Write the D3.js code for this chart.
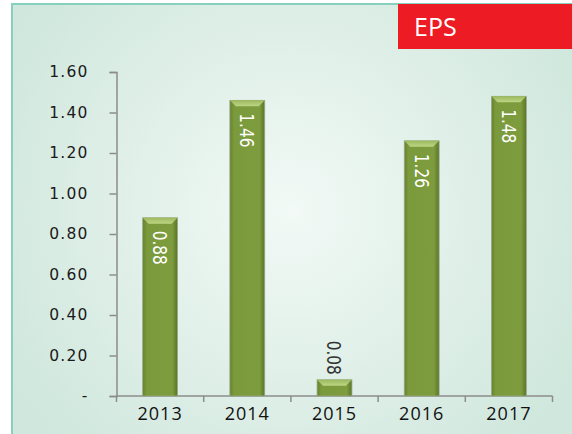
<!DOCTYPE html>
<html>
<head>
<meta charset="utf-8">
<script src="https://cdnjs.cloudflare.com/ajax/libs/d3/7.8.5/d3.min.js"></script>
<style>
  body { margin: 0; background: #fff; }
  svg { display: block; }
</style>
</head>
<body>
<div class="chart"></div>
<script>
var years = ["2013", "2014", "2015", "2016", "2017"];
var eps = [0.88, 1.46, 0.08, 1.26, 1.48];
var yTicks = [0, 0.2, 0.4, 0.6, 0.8, 1.0, 1.2, 1.4, 1.6];

var svgWidth = 572;
var svgHeight = 434;
var margin = { top: 72, left: 116.5, right: 19.5, bottom: 38 };
var width = svgWidth - margin.left - margin.right;
var height = svgHeight - margin.top - margin.bottom;

var svg = d3.select(".chart")
  .append("svg")
    .attr("width", svgWidth)
    .attr("height", svgHeight);

var defs = svg.append("defs");

var bg = defs.append("radialGradient")
  .attr("id", "bg")
  .attr("gradientUnits", "userSpaceOnUse")
  .attr("cx", 290).attr("cy", 210).attr("r", 330);
bg.append("stop").attr("offset", "0%").attr("stop-color", "#f2f9f6");
bg.append("stop").attr("offset", "100%").attr("stop-color", "#cfe7dc");

var barGrad = defs.append("linearGradient")
  .attr("id", "barGrad")
  .attr("x1", "0%").attr("x2", "100%").attr("y1", "0%").attr("y2", "0%");
barGrad.append("stop").attr("offset", "0%").attr("stop-color", "#66812f");
barGrad.append("stop").attr("offset", "12%").attr("stop-color", "#7b9a3b");
barGrad.append("stop").attr("offset", "85%").attr("stop-color", "#7d9c3d");
barGrad.append("stop").attr("offset", "100%").attr("stop-color", "#5b7428");

var topGrad = defs.append("linearGradient")
  .attr("id", "topGrad")
  .attr("x1", "0%").attr("x2", "0%").attr("y1", "0%").attr("y2", "100%");
topGrad.append("stop").attr("offset", "0%").attr("stop-color", "#9dba5e");
topGrad.append("stop").attr("offset", "100%").attr("stop-color", "#bdd585");

// panel
svg.append("rect")
  .attr("x", 12).attr("y", 4)
  .attr("width", svgWidth + 10).attr("height", svgHeight + 10)
  .attr("fill", "url(#bg)")
  .attr("stroke", "#86d0bd")
  .attr("stroke-width", 2);

// title box
svg.append("rect")
  .attr("x", 398).attr("y", 4)
  .attr("width", 180).attr("height", 45)
  .attr("fill", "#ed1c24");
svg.append("text")
  .attr("x", 414).attr("y", 36)
  .attr("fill", "#fff")
  .attr("font-family", "'Open Sans', sans-serif")
  .attr("font-size", 25)
  .text("EPS");

var chart = svg.append("g")
  .attr("transform", "translate(" + margin.left + "," + margin.top + ")");

var x = d3.scaleBand().domain(years).range([0, width]).paddingInner(0.6).paddingOuter(0.3);
var y = d3.scaleLinear().domain([0, 1.6]).range([height, 0]);

var data = years.map(function(d, i) { return { year: d, value: eps[i] }; });

// y axis
var leftAxis = d3.axisLeft(y)
  .tickValues(yTicks)
  .tickSize(7)
  .tickPadding(21)
  .tickFormat(function(d) { return d === 0 ? "-" : d3.format(".2f")(d); });
var gy = chart.append("g").call(leftAxis);
gy.selectAll("text")
  .attr("font-family", "'DejaVu Sans', sans-serif")
  .attr("font-size", 15.5)
  .attr("letter-spacing", 1.2)
  .attr("fill", "#1a1a1a");

// x axis
var xEdges = d3.scaleLinear().domain([0, years.length]).range([0, width]);
var gx = chart.append("g").attr("transform", "translate(0," + height + ")");
gx.append("line").attr("x1", 0).attr("x2", width).attr("y1", 0).attr("y2", 0);
gx.selectAll(".tk").data(d3.range(years.length + 1)).enter().append("line")
  .attr("x1", function(d) { return xEdges(d); })
  .attr("x2", function(d) { return xEdges(d); })
  .attr("y1", 0).attr("y2", 6);
gx.selectAll("text").data(years).enter().append("text")
  .attr("x", function(d) { return x(d) + x.bandwidth() / 2; })
  .attr("y", 24)
  .attr("text-anchor", "middle")
  .attr("font-family", "'Open Sans', sans-serif")
  .attr("font-size", 18)
  .attr("letter-spacing", 1)
  .attr("fill", "#111")
  .text(function(d) { return d; });

svg.selectAll(".domain, .tick line, g line").attr("stroke", "#8c8c8c").attr("stroke-width", 1.5);

// bars
var bars = chart.selectAll(".bar").data(data).enter().append("g").attr("class", "bar");
bars.append("rect")
  .attr("x", function(d) { return x(d.year); })
  .attr("y", function(d) { return y(d.value); })
  .attr("width", x.bandwidth())
  .attr("height", function(d) { return height - y(d.value); })
  .attr("fill", "url(#barGrad)")
  .attr("stroke", "#9aa88a")
  .attr("stroke-width", 0.8);
bars.append("path")
  .attr("d", function(d) {
    var x0 = x(d.year), x1 = x0 + x.bandwidth(), t = y(d.value), b = 6;
    return "M" + x0 + "," + t + "L" + x1 + "," + t + "L" + (x1 - b) + "," + (t + b) +
      "L" + (x0 + b) + "," + (t + b) + "Z";
  })
  .attr("fill", "url(#topGrad)");

// value labels, rotated
bars.append("text")
  .attr("transform", function(d) {
    var cx = x(d.year) + x.bandwidth() / 2;
    var inside = height - y(d.value) > 50;
    var ty = inside ? y(d.value) + 13 : y(d.value) - 39;
    return "translate(" + cx + "," + ty + ") rotate(90) scale(0.85,1)";
  })
  .attr("dy", "0.35em")
  .attr("font-family", "'Liberation Sans Narrow', 'DejaVu Sans Condensed', sans-serif")
  .attr("font-size", 20)
  .attr("fill", function(d) { return height - y(d.value) > 50 ? "#fff" : "#333"; })
  .text(function(d) { return d3.format(".2f")(d.value); });
</script>
</body>
</html>
